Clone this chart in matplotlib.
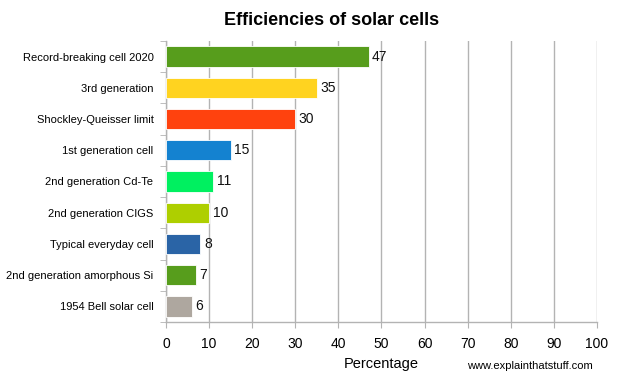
import matplotlib
matplotlib.use("Agg")
import matplotlib.pyplot as plt

plt.rcParams['font.family'] = ['Liberation Sans', 'DejaVu Sans']

# ── Data ──────────────────────────────────────────────────────────
labels = ["Record-breaking cell 2020", "3rd generation", "Shockley-Queisser limit",
          "1st generation cell", "2nd generation Cd-Te", "2nd generation CIGS",
          "Typical everyday cell", "2nd generation amorphous Si", "1954 Bell solar cell"]
values = [47, 35, 30, 15, 11, 10, 8, 7, 6]
colors = ["#579d1c", "#ffd320", "#ff420e", "#1482d0", "#00f060",
          "#aecf00", "#2a64a6", "#579d1c", "#aea79f"]
xticks = list(range(0, 101, 10))

fig = plt.figure(figsize=(6.18, 3.81), dpi=100)
ax = fig.add_axes([0.2686, 0.1549, 0.6974, 0.7375])

ypos = list(range(len(labels)))
ax.barh(ypos, values, height=0.65, color=colors, edgecolor="white", linewidth=0.6, zorder=3)
for y, v in zip(ypos, values):
    ax.text(v + 0.8, y, str(v), va="center", ha="left", fontsize=10, color="#111")

ax.set_ylim(len(labels) - 0.5, -0.5)
ax.set_xlim(0, 100)
ax.set_yticks(ypos)
ax.set_yticklabels(labels, fontsize=8)
ax.set_xticks(xticks)
ax.set_xticklabels([str(t) for t in xticks], fontsize=10)
ax.tick_params(axis="y", length=0, pad=9)
ax.tick_params(axis="x", length=4, color="#b3b3b3", pad=7)
# category separator ticks on left
ax.set_yticks([i - 0.5 for i in range(len(labels) + 1)], minor=True)
ax.tick_params(axis="y", which="minor", length=4, color="#b3b3b3")

ax.grid(axis="x", color="#b3b3b3", linewidth=1, zorder=0)
for s in ["top", "right"]:
    ax.spines[s].set_visible(False)
for s in ["left", "bottom"]:
    ax.spines[s].set_color("#b3b3b3")
    ax.spines[s].set_linewidth(1)

ax.set_xlabel("Percentage", fontsize=10.5, labelpad=4)
fig.text(0.537, 0.945, "Efficiencies of solar cells", ha="center", va="center",
         fontsize=13, fontweight="bold")
fig.text(0.858, 0.04, "www.explainthatstuff.com", ha="center", va="center", fontsize=8)

fig.savefig("out.png", dpi=100)
plt.close()
